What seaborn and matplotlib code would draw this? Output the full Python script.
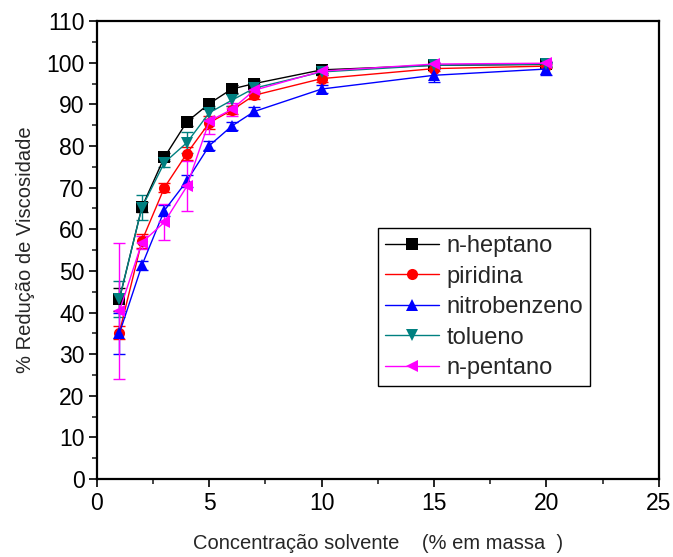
import numpy as np
import pandas as pd
import matplotlib
matplotlib.use("Agg")
import matplotlib.pyplot as plt
from matplotlib.ticker import MultipleLocator
import seaborn as sns

# Solvent concentration (% by mass)
conc = [1, 2, 3, 4, 5, 6, 7, 10, 15, 20]

# Viscosity reduction (%) for each solvent
heptano = [43.2, 65.3, 77.3, 85.8, 90.2, 93.7, 95.0, 98.3, 99.4, 99.6]
piridina = [35.2, 57.2, 70.0, 78.2, 85.6, 88.6, 92.2, 96.2, 98.6, 99.2]
nitrobenzeno = [35.0, 51.3, 64.5, 71.6, 80.1, 84.8, 88.3, 93.7, 97.0, 98.5]
tolueno = [43.3, 65.2, 76.0, 80.8, 88.0, 91.0, 93.9, 97.8, 99.4, 99.7]
pentano = [40.3, 56.8, 61.7, 70.3, 86.0, 88.8, 93.4, 98.0, 99.7, 99.9]

# Standard deviations
err_heptano = [2.8, 1.2, 1.0, 1.0, 1.0, 1.0, 0.8, 0.8, 0.5, 0.5]
err_piridina = [1.5, 1.6, 1.0, 1.5, 1.5, 1.0, 1.0, 0.8, 0.6, 0.5]
err_nitrobenzeno = [5.0, 1.0, 1.4, 1.5, 1.0, 1.0, 1.0, 1.0, 1.5, 1.5]
err_tolueno = [4.3, 3.0, 1.0, 2.5, 1.5, 1.5, 1.0, 0.8, 0.5, 0.5]
err_pentano = [16.3, 1.5, 4.3, 6.0, 3.0, 1.5, 1.0, 0.8, 0.5, 0.5]

names = ["n-heptano", "piridina", "nitrobenzeno", "tolueno", "n-pentano"]
values = [heptano, piridina, nitrobenzeno, tolueno, pentano]
errors = [err_heptano, err_piridina, err_nitrobenzeno, err_tolueno, err_pentano]
colors = ["#000000", "#FF0000", "#0000FF", "#008080", "#FF00FF"]
markers = ["s", "o", "^", "v", "<"]

df = pd.DataFrame({
    "conc": np.tile(conc, len(names)),
    "red": np.concatenate(values),
    "err": np.concatenate(errors),
    "solvente": np.repeat(names, len(conc)),
})

sns.set_theme(style="ticks")
plt.rcParams["font.family"] = ["Liberation Sans", "DejaVu Sans"]

fig = plt.figure(figsize=(6.73, 5.57), dpi=100)
ax = fig.add_axes([0.144, 0.140, 0.835, 0.822])

for name, col in zip(names, colors):
    sub = df[df["solvente"] == name]
    ax.errorbar(sub["conc"], sub["red"], yerr=sub["err"], fmt="none",
                ecolor=col, elinewidth=1.0, capsize=4, capthick=1.0, zorder=2)

sns.lineplot(data=df, x="conc", y="red", hue="solvente", style="solvente",
             hue_order=names, style_order=names,
             palette=dict(zip(names, colors)),
             markers=dict(zip(names, markers)), dashes=False,
             markersize=8, markeredgewidth=0, linewidth=1.0,
             ax=ax, zorder=3, legend=False)

handles = [plt.Line2D([], [], color=c, marker=m, markersize=8, linewidth=1.0,
                      markeredgewidth=0) for c, m in zip(colors, markers)]
leg = ax.legend(handles, names, loc="upper left", bbox_to_anchor=(0.50, 0.548),
                fontsize=17, frameon=True, fancybox=False, framealpha=1,
                edgecolor="black", handlelength=2.3, handletextpad=0.3,
                labelspacing=0.36, borderpad=0.3, borderaxespad=0)
leg.get_frame().set_linewidth(1.0)

ax.set_xlim(0, 25)
ax.set_ylim(0, 110)
ax.xaxis.set_major_locator(MultipleLocator(5))
ax.xaxis.set_minor_locator(MultipleLocator(2.5))
ax.yaxis.set_major_locator(MultipleLocator(10))
ax.yaxis.set_minor_locator(MultipleLocator(5))
ax.tick_params(axis="both", which="major", direction="out", length=6, width=1.2,
               labelsize=16.5, colors="black", pad=3)
ax.tick_params(axis="both", which="minor", direction="out", length=3.5, width=1.2)

for sp in ax.spines.values():
    sp.set_visible(True)
    sp.set_linewidth(1.6)
    sp.set_color("black")

ax.set_xlabel("Concentração solvente    (% em massa  )", fontsize=14.5, labelpad=14)
ax.set_ylabel("% Redução de Viscosidade", fontsize=14.5, labelpad=8)

fig.savefig("out.png", dpi=100)
